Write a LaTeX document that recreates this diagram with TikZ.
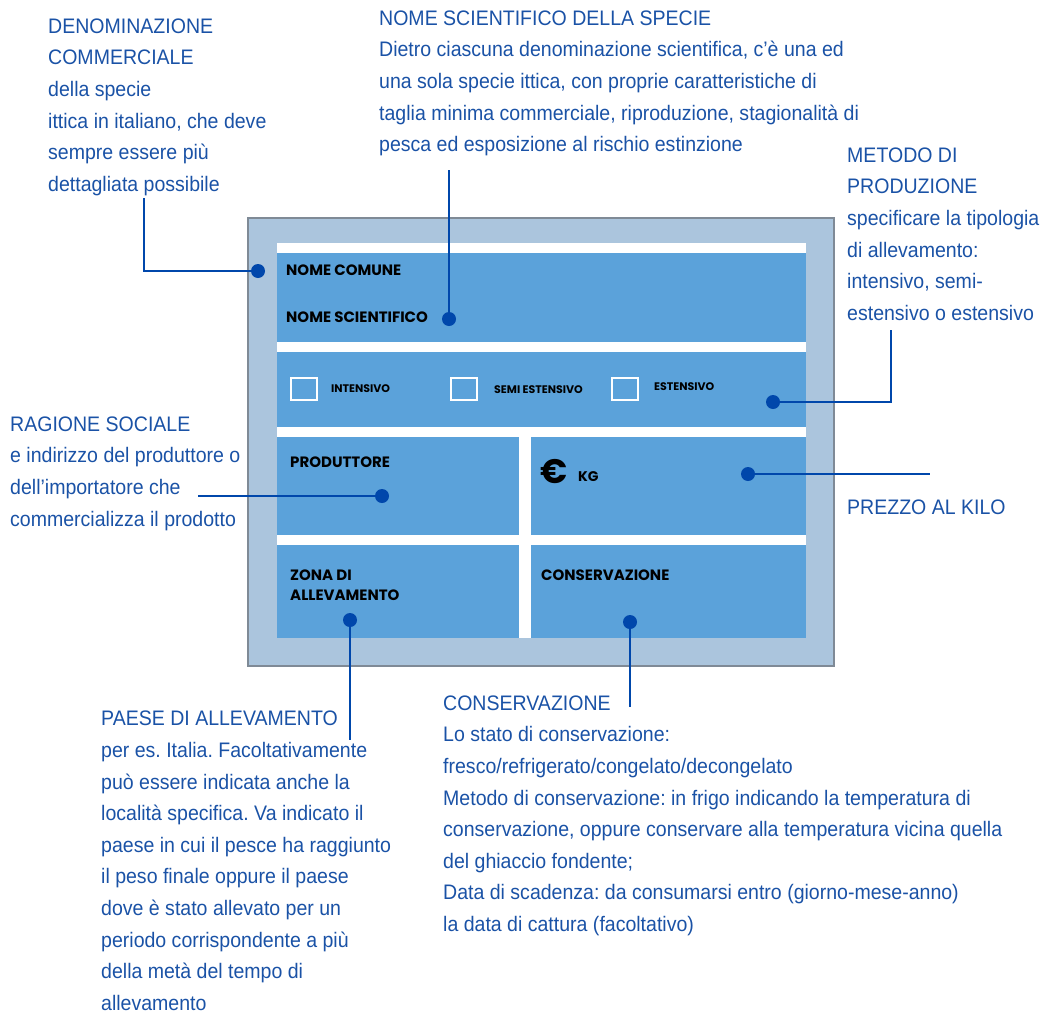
\documentclass[tikz,border=0pt]{standalone}
\usepackage{fontspec}
\usepackage{tikz}
\usetikzlibrary{positioning}
\newfontfamily\notefont{Liberation Sans}[FakeStretch=0.93]
\newfontfamily\boxfont{Poppins}
\definecolor{noteblue}{HTML}{1A52A6}
\definecolor{linkblue}{HTML}{0047AB}
\definecolor{framefill}{HTML}{ABC5DD}
\definecolor{framedraw}{HTML}{7F8A96}
\definecolor{fieldblue}{HTML}{5BA2DA}
\frenchspacing

\begin{document}
\begin{tikzpicture}[x=1pt, y=-1pt,
  note/.style={anchor=north west, inner sep=0pt, align=left, text=noteblue,
    font=\notefont\fontsize{21}{31.6}\selectfont},
  tag/.style={anchor=west, inner sep=0pt, font=\boxfont\bfseries\fontsize{15}{20}\selectfont},
  smalltag/.style={anchor=west, inner sep=0pt, font=\boxfont\bfseries\fontsize{11}{12}\selectfont},
  tickbox/.style={anchor=north west, draw=white, line width=1.5pt, minimum width=26pt,
    minimum height=22pt, inner sep=0pt},
  dot/.style={circle, fill=linkblue, inner sep=0pt, minimum size=14pt},
  link/.style={draw=linkblue, line width=2.6pt}]
  \useasboundingbox (0,0) rectangle (1050,1012);

  % Label frame
  \draw[fill=framefill, draw=framedraw, line width=2pt] (248,218) rectangle (834,666);
  \fill[white] (277,243) rectangle (806,638);

  % Fields
  \fill[fieldblue] (277,253) rectangle (806,342);
  \fill[fieldblue] (277,352) rectangle (806,427);
  \fill[fieldblue] (277,437) rectangle (519,535);
  \fill[fieldblue] (531,437) rectangle (806,535);
  \fill[fieldblue] (277,545) rectangle (519,638);
  \fill[fieldblue] (531,545) rectangle (806,638);

  % Field labels
  \node[tag] (comune) at (286,270) {NOME COMUNE};
  \node[tag] (scient) at (286,317) {NOME SCIENTIFICO};
  \node[tickbox] (boxint) at (290,377) {};
  \node[tickbox] (boxsemi) at (450,377) {};
  \node[tickbox] (boxest) at (611,377) {};
  \node[smalltag] (intens) at (331,389) {INTENSIVO};
  \node[smalltag] (semiest) at (494,390) {SEMI ESTENSIVO};
  \node[smalltag] (estens) at (654,387) {ESTENSIVO};
  \node[tag] (produt) at (290,462) {PRODUTTORE};
  \node[anchor=west, inner sep=0pt, font=\boxfont\bfseries\fontsize{34}{34}\selectfont] (euro) at (540,472) {€};
  \node[tag, font=\boxfont\bfseries\fontsize{14}{16}\selectfont] (kg) at (578,477) {KG};
  \node[tag, anchor=north west, align=left] (zona) at (290,569.5) {ZONA DI\\ALLEVAMENTO};
  \node[tag] (conserv) at (541,575) {CONSERVAZIONE};

  % Dots
  \node[dot] (dcomune) at (258,271) {};
  \node[dot] (dscient) at (449,319) {};
  \node[dot] (dmetodo) at (773,402) {};
  \node[dot] (dprod) at (382,496) {};
  \node[dot] (dprezzo) at (748,474) {};
  \node[dot] (dzona) at (350,620) {};
  \node[dot] (dcons) at (630,622) {};

  % Notes
  \node[note] (denom) at (48,18.5) {DENOMINAZIONE\\COMMERCIALE\\della specie\\ittica in italiano, che deve\\sempre essere più\\dettagliata possibile};
  \node[note] (nomesci) at (379,10.5) {NOME SCIENTIFICO DELLA SPECIE\\Dietro ciascuna denominazione scientifica, c’è una ed\\una sola specie ittica, con proprie caratteristiche di\\taglia minima commerciale, riproduzione, stagionalità di\\pesca ed esposizione al rischio estinzione};
  \node[note] (metodo) at (847,147.5) {METODO DI\\PRODUZIONE\\specificare la tipologia\\di allevamento:\\intensivo, semi-\\estensivo o estensivo};
  \node[note] (ragione) at (10,416.5) {RAGIONE SOCIALE\\e indirizzo del produttore o\\dell’importatore che\\commercializza il prodotto};
  \node[note] (prezzo) at (847,499.5) {PREZZO AL KILO};
  \node[note] (paese) at (101,711) {PAESE DI ALLEVAMENTO\\per es. Italia. Facoltativamente\\può essere indicata anche la\\località specifica. Va indicato il\\paese in cui il pesce ha raggiunto\\il peso finale oppure il paese\\dove è stato allevato per un\\periodo corrispondente a più\\della metà del tempo di\\allevamento};
  \node[note] (stato) at (443,695.5) {CONSERVAZIONE\\Lo stato di conservazione:\\fresco/refrigerato/congelato/decongelato\\Metodo di conservazione: in frigo indicando la temperatura di\\conservazione, oppure conservare alla temperatura vicina quella\\del ghiaccio fondente;\\Data di scadenza: da consumarsi entro (giorno-mese-anno)\\la data di cattura (facoltativo)};

  % Connectors
  \coordinate (edenom) at (144,198);
  \coordinate (escient) at (449,170);
  \coordinate (emetodo) at (891,330);
  \coordinate (eragione) at (198,496);
  \coordinate (eprezzo) at (930,474);
  \coordinate (ezona) at (350,740);
  \coordinate (econs) at (630,707);
  \draw[link] (edenom) |- (dcomune);
  \draw[link] (escient) -- (dscient);
  \draw[link] (dmetodo) -| (emetodo);
  \draw[link] (eragione) -- (dprod);
  \draw[link] (dprezzo) -- (eprezzo);
  \draw[link] (dzona) -- (ezona);
  \draw[link] (dcons) -- (econs);
\end{tikzpicture}
\end{document}
